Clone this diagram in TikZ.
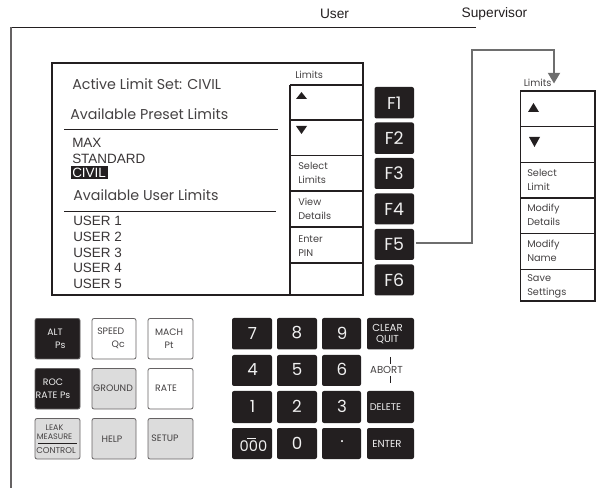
\documentclass[tikz,border=0pt]{standalone}
\usepackage{fontspec}
\setmainfont{Poppins}
\newfontfamily\arialf{Liberation Sans}
\usetikzlibrary{arrows.meta}
\definecolor{ink}{HTML}{231F20}
\definecolor{keygray}{HTML}{DCDCDC}
\definecolor{wire}{HTML}{6E6E6E}
\definecolor{soft white}{HTML}{F0F0F0}
\tikzset{
  txt/.style={anchor=west,inner sep=0pt,text=ink,font=\fontsize{#1}{#1}\selectfont},
  txt/.default=8.5,
  title/.style={txt=10.7,text=ink!85},
  item/.style={anchor=west,inner sep=0pt,text=ink!90,font=\arialf\fontsize{10.1}{10.1}\selectfont},
  soft/.style={anchor=west,inner sep=0pt,align=left,text=ink!85,font=\fontsize{7.3}{10.6}\selectfont},
  softrow/.style={draw=ink,line width=0.9pt},
  fkey/.style={fill=ink,rounded corners=1.5pt},
  fkeytxt/.style={text=soft white,inner sep=0pt,font=\fontsize{13}{13}\selectfont},
  padkey/.style={fill=ink,rounded corners=1.5pt},
  padtxt/.style={text=soft white,inner sep=0pt,font=\fontsize{12.5}{12.5}\selectfont},
  padsmall/.style={text=soft white,inner sep=0pt,align=center,font=\fontsize{7.6}{8.2}\selectfont},
  modekey/.style={draw=ink!70,line width=0.6pt,rounded corners=1.5pt},
  modetxt/.style={inner sep=0pt,align=center,text=ink!85,font=\fontsize{7}{9.7}\selectfont},
  tri/.style={fill=ink,draw=none},
  head/.style={inner sep=0pt,text=ink,font=\arialf\fontsize{10.3}{10.3}\selectfont},
}
\begin{document}
\begin{tikzpicture}[x=0.75pt,y=-0.75pt]
\useasboundingbox (0,0) rectangle (600,488);
% header
\node[head] (user) at (334.5,14) {User};
\node[head] (sup) at (494.5,14) {Supervisor};
\draw[ink,line width=0.6pt] (476,27.5) -- (11,27.5);
\draw[ink!70,line width=0.8pt] (11,27.5) -- (11,488);
% screen
\node[draw=ink,line width=1.4pt,minimum width=311pt*0.75,minimum height=232pt*0.75,inner sep=0pt] (screen) at (207.5,179) {};
\node[title] (active) at (72,84) {Active Limit Set: CIVIL};
\node[title] (preset) at (70,114.5) {Available Preset Limits};
\draw[ink,line width=0.6pt] (64,129) -- (278,129);
\node[item] (max) at (72,143) {MAX};
\node[item] (std) at (72,158.5) {STANDARD};
\fill[ink] (71,166.5) rectangle (108,179);
\node[item,text=white] (civil) at (72,173) {CIVIL};
\node[title] (avuser) at (73,195.5) {Available User Limits};
\draw[ink,line width=0.6pt] (64,211.5) -- (276,211.5);
\node[item] (u1) at (73,221) {USER 1};
\node[item] (u2) at (73,237) {USER 2};
\node[item] (u3) at (73,253) {USER 3};
\node[item] (u4) at (73,268) {USER 4};
\node[item] (u5) at (73,284) {USER 5};
% user softkeys
\draw[softrow] (290,85) -- (290,295);
\foreach \y in {85,120,155.5,191,227,263} \draw[softrow] (290,\y) -- (363,\y);
\node[soft] (lim1) at (295,75) {Limits};
\fill[tri] (296,99) -- (301.5,92) -- (307,99) -- cycle;
\fill[tri] (296,126) -- (307,126) -- (301.5,134) -- cycle;
\node[soft] (sel1) at (298,173) {Select\\Limits};
\node[soft] (view1) at (298,209) {View\\Details};
\node[soft] (ent1) at (298,246) {Enter\\PIN};
% F keys
\foreach \n/\a/\b in {1/87/118.5,2/122.5/154,3/158/189,4/193.5/224.5,5/229/260,6/264.5/295.5}{
  \fill[fkey] (374.5,\a) rectangle (414,\b);
  \node[fkeytxt] (f\n) at (394.2,{(\a+\b)/2}) {F\n};
}
\coordinate (f5e) at (416,243.5);
% right softkeys
\node[draw=ink,line width=0.9pt,minimum width=74.3pt*0.75,minimum height=210pt*0.75,inner sep=0pt] (panel) at (557.8,196) {};
\foreach \y in {126.5,162.5,198,233.5,269.5} \draw[softrow] (520.7,\y) -- (595,\y);
\node[soft] (lim2) at (523.5,82.5) {Limits};
\fill[tri] (528,112) -- (533.5,103) -- (539,112) -- cycle;
\fill[tri] (529,137) -- (540,137) -- (534.5,147) -- cycle;
\node[soft] (sel2) at (527,180) {Select\\Limit};
\node[soft] (mod2) at (527,215) {Modify\\Details};
\node[soft] (nam2) at (527,251) {Modify\\Name};
\node[soft] (sav2) at (527,286) {Save\\Settings};
% connector
\coordinate (bendA) at (471.7,50);
\coordinate (bendB) at (554,50);
\coordinate (tipC) at (554,83.5);
\draw[wire,line width=1.5pt,-{Triangle[length=8pt,width=9pt]}] (f5e) -- (f5e -| bendA) -- (bendA) -- (bendB) -- (tipC);
% mode keys
\foreach \x/\X/\y/\Y/\c in {35/80/318.5/359/ink,92/136/318.5/359/white,148/193/318.5/359/white,
  35/80/368.5/409/ink,92/136/368.5/409/keygray,148/193/368.5/409/white,
  35/80/418.5/459/keygray,92/136/418.5/459/keygray,148/193/418.5/459/keygray}{
  \filldraw[modekey,fill=\c] (\x,\y) rectangle (\X,\Y);
}
\node[modetxt,text=soft white,anchor=west,align=left] (alt) at (47,338.5) {ALT\\\hspace*{0.85em}Ps};
\node[modetxt,anchor=west,align=left] (speed) at (97,338.5) {SPEED\\\hspace*{1.55em}Qc};
\node[modetxt] (mach) at (169,338.5) {MACH\\Pt};
\node[modetxt,text=soft white] (roc) at (53,388.5) {ROC\\RATE Ps};
\node[modetxt] (ground) at (113,388) {GROUND};
\node[modetxt] (rate) at (166,388) {RATE};
\node[inner sep=0pt,text=ink!85,font=\fontsize{6}{6.8}\selectfont,align=center] (leak) at (54.5,432.5) {LEAK\\MEASURE};
\draw[ink,line width=0.6pt] (38,443.3) -- (77,443.3);
\node[inner sep=0pt,text=ink!85,font=\fontsize{6.4}{6.4}\selectfont] (control) at (56,451) {CONTROL};
\node[modetxt] (help) at (112,439) {HELP};
\node[modetxt] (setup) at (165,438) {SETUP};
% keypad
\foreach \x/\X in {232/272,277/317,322/361}
  \foreach \y/\Y in {318/349.5,355/386,391/423,428/459}{
    \fill[padkey] (\x,\y) rectangle (\X,\Y);
  }
\foreach \y/\Y in {318/349.5,391/423,428/459}\fill[padkey] (367,\y) rectangle (414,\Y);
\node[padtxt] (k7) at (252.5,333) {7};
\node[padtxt] (k8) at (297,333) {8};
\node[padtxt] (k9) at (342,333) {9};
\node[padtxt] (k4) at (252.5,369.5) {4};
\node[padtxt] (k5) at (297,369.5) {5};
\node[padtxt] (k6) at (342,369.5) {6};
\node[padtxt] (k1) at (252.5,406.5) {1};
\node[padtxt] (k2) at (297,406.5) {2};
\node[padtxt] (k3) at (342,406.5) {3};
\node[padtxt,font=\fontsize{11}{11}\selectfont] (k000) at (253.5,446) {000};
\draw[soft white,line width=0.6pt] (247,438) -- (256,438);
\node[padtxt] (k0) at (297,443.5) {0};
\node[padtxt] (kdot) at (342,442) {.};
\node[padsmall] (clear) at (387.5,334.5) {CLEAR\\QUIT};
\node[padsmall,text=ink!85] (abort) at (386.5,370) {ABORT};
\draw[ink,line width=0.8pt] (390.5,357) -- (390.5,364);
\draw[ink,line width=0.8pt] (390.5,376) -- (390.5,383);
\node[padsmall,font=\fontsize{7.3}{7.3}\selectfont] (del) at (385.5,407) {DELETE};
\node[padsmall] (enter) at (387,444) {ENTER};
\end{tikzpicture}
\end{document}
